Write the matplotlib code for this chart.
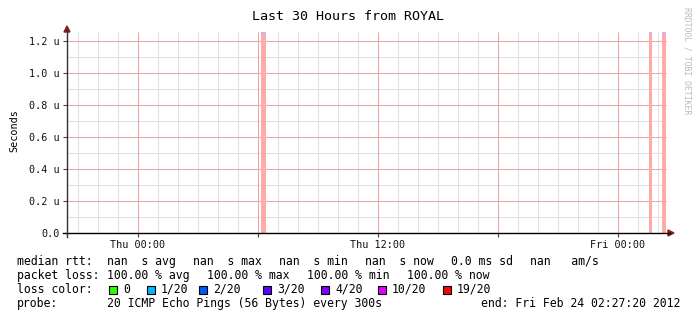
import matplotlib
matplotlib.use("Agg")
import matplotlib.pyplot as plt
from matplotlib.patches import Rectangle
from matplotlib.lines import Line2D
import numpy as np

# ---------------- data ----------------
title = "Last 30 Hours from ROYAL"
y_label = "Seconds"
# time axis: hours relative to Thu 00:00
x_start, x_end = -3.544, 26.456
x_tick_pos = [0, 12, 24]
x_tick_labels = ["Thu 00:00", "Thu 12:00", "Fri 00:00"]
y_tick_vals = [0.0, 0.2, 0.4, 0.6, 0.8, 1.0, 1.2]          # micro-seconds
y_tick_labels = ["0.0", "0.2 u", "0.4 u", "0.6 u", "0.8 u", "1.0 u", "1.2 u"]
y_top = 1.25625
# loss bars (hours relative to Thu 00:00) reaching full height
loss_starts = [6.16, 25.55, 26.20]
loss_ends = [6.41, 25.70, 26.41]
loss_heights = [1.25625, 1.25625, 1.25625]

row_median = [("median rtt:", 16.7), ("nan  s avg", 107), ("nan  s max", 193),
              ("nan  s min", 279), ("nan  s now", 365), ("0.0 ms sd", 451),
              ("nan   am/s", 530)]
row_loss = [("packet loss:", 16.7), ("100.00 % avg", 107.3), ("100.00 % max", 207.3),
            ("100.00 % min", 307.3), ("100.00 % now", 407)]
loss_color_labels = ["0", "1/20", "2/20", "3/20", "4/20", "10/20", "19/20"]
loss_color_values = ["#26ff00", "#00b8ff", "#0059ff", "#5e00ff", "#7e00ff", "#dd00ff", "#ff0000"]
loss_color_box_x = [109, 147, 199, 263, 321, 378, 443]
probe_text = "20 ICMP Echo Pings (56 Bytes) every 300s"
end_text = "end: Fri Feb 24 02:27:20 2012"
watermark = "RRDTOOL / TOBI OETIKER"

# ---------------- figure ----------------
W, H = 697, 321
fig = plt.figure(figsize=(W / 100, H / 100), dpi=100)
fig.patch.set_facecolor("white")
MONO = "DejaVu Sans Mono"

def fx(px):
    return px / W

def fy(py):
    return 1 - py / H

L, R, T, B = 67, 667, 32, 233
ax = fig.add_axes([fx(L), fy(B), (R - L) / W, (B - T) / H])
ax.set_facecolor("white")
ax.set_xlim(x_start, x_end)
ax.set_ylim(0, y_top)

# grid
minor_col = "#e0e0e0"
major_col = "#eea4a4"
ax.vlines([h for h in np.arange(np.ceil(x_start), x_end) if h % 6 != 0], 0, y_top,
          color=minor_col, lw=0.75, zorder=0)
ax.hlines(np.arange(0.1, y_top, 0.2), x_start, x_end, color=minor_col, lw=0.75, zorder=0)
ax.vlines(np.arange(np.ceil(x_start / 6) * 6, x_end, 6), 0, y_top,
          color=major_col, lw=0.75, zorder=0.5)
ax.hlines(y_tick_vals[1:], x_start, x_end, color=major_col, lw=0.75, zorder=0.5)

# loss bars
for s, e, hgt in zip(loss_starts, loss_ends, loss_heights):
    ax.bar(s, hgt, width=e - s, align="edge", color="#ffaaaa", lw=0, zorder=2)
    ax.hlines(hgt - 0.008, s, e, color="#c8b4ee", lw=1.2, zorder=3)

for sp in ax.spines.values():
    sp.set_visible(False)

ax.set_yticks(y_tick_vals)
ax.set_yticklabels(y_tick_labels)
ax.set_xticks(x_tick_pos)
ax.set_xticklabels(x_tick_labels)
ax.set_xticks([6, 18], minor=True)
ax.tick_params(axis="both", which="both", direction="out", length=3, width=0.8,
               color="#444444", labelsize=7.3, pad=2)
for lab in ax.get_xticklabels() + ax.get_yticklabels():
    lab.set_fontfamily(MONO)
    lab.set_color("#111111")

# axis lines with arrows
fig.add_artist(Line2D([fx(63), fx(670)], [fy(B), fy(B)], color="black", lw=1.0))
fig.add_artist(Line2D([fx(L), fx(L)], [fy(237), fy(30)], color="#333333", lw=1.0))
fig.add_artist(plt.Polygon([[fx(668), fy(B - 3)], [fx(668), fy(B + 3)], [fx(674), fy(B)]],
                           closed=True, color="#802020", transform=fig.transFigure))
fig.add_artist(plt.Polygon([[fx(L - 3), fy(32)], [fx(L + 3), fy(32)], [fx(L), fy(26)]],
                           closed=True, color="#802020", transform=fig.transFigure))

# title / labels
fig.text(fx(348.5), fy(17), title, ha="center", va="center", fontsize=9.6, family=MONO)
fig.text(fx(14), fy(131), y_label, ha="center", va="center", rotation=90,
         fontsize=7.3, family=MONO)
fig.text(fx(686.5), fy(61), watermark, ha="center", va="center", rotation=270,
         fontsize=5.9, family=MONO, color="#bbbbbb")

# legend
LFS = 8.3
for txt, x in row_median:
    fig.text(fx(x), fy(261.5), txt, ha="left", va="center", fontsize=LFS, family=MONO)
for txt, x in row_loss:
    fig.text(fx(x), fy(275.5), txt, ha="left", va="center", fontsize=LFS, family=MONO)
fig.text(fx(16.7), fy(289.5), "loss color:", ha="left", va="center", fontsize=LFS, family=MONO)
for lab, col, bx in zip(loss_color_labels, loss_color_values, loss_color_box_x):
    fig.add_artist(Rectangle((fx(bx), fy(293.5)), 8 / W, 8 / H, facecolor=col,
                             edgecolor="black", lw=0.8, transform=fig.transFigure))
    fig.text(fx(bx + 14), fy(289.5), lab, ha="left", va="center", fontsize=LFS, family=MONO)
fig.text(fx(16.7), fy(303.5), "probe:", ha="left", va="center", fontsize=LFS, family=MONO)
fig.text(fx(107), fy(303.5), probe_text, ha="left", va="center", fontsize=LFS, family=MONO)
fig.text(fx(680), fy(303.5), end_text, ha="right", va="center", fontsize=LFS, family=MONO)

fig.savefig("out.png", dpi=100, facecolor="white")
